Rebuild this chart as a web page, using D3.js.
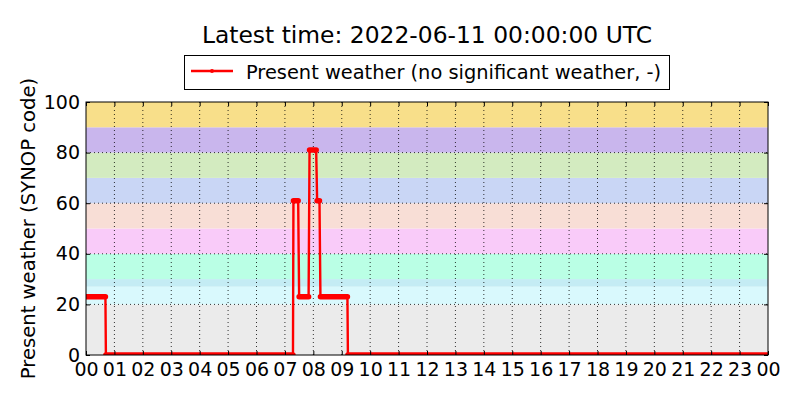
<!DOCTYPE html>
<html>
<head>
  <meta charset="utf-8">
  <script src="https://d3js.org/d3.v7.min.js"></script>
  <style>
    body { margin: 0; background: #fff; }
    text { font-family: "DejaVu Sans", sans-serif; fill: #000; }
    .grid line { stroke: #000; stroke-width: 0.8; stroke-dasharray: 1,3; }
  </style>
</head>
<body>
<script>
// observation times (HH:MM, 24:00 = next midnight) and SYNOP present weather codes
var obsTimes = ["00:00", "00:41", "00:42", "07:17", "07:18", "07:28", "07:30", "07:50",
                "07:52", "08:06", "08:08", "08:13", "08:15", "09:12", "09:13", "24:00"];
var obsValues = [23, 23, 0, 0, 61, 61, 23, 23, 81, 81, 61, 61, 23, 23, 0, 0];

// coloured background bands: [from, to, colour]
var bandFrom = [0, 20, 27, 30, 40, 50, 60, 70, 80, 90];
var bandTo = [20, 27, 30, 40, 50, 60, 70, 80, 90, 100];
var bandColors = ["#ebebeb", "#d9f9fd", "#c4ecf4", "#baffe5", "#f9cbf9",
                  "#f8ded6", "#c9d6f5", "#d3ebc0", "#c9b6ed", "#f8df8a"];

var xTickLabels = ["00", "01", "02", "03", "04", "05", "06", "07", "08", "09", "10", "11",
                   "12", "13", "14", "15", "16", "17", "18", "19", "20", "21", "22", "23", "00"];
var yTicks = [0, 20, 40, 60, 80, 100];

var titleText = "Latest time: 2022-06-11 00:00:00 UTC";
var legendText = "Present weather (no significant weather, -)";
var yLabel = "Present weather (SYNOP code)";

(function() {
  "use strict";
  var W = 800, H = 400;
  var pLeft = 86, pRight = 768, pTop = 102, pBottom = 355;

  function toHours(s) {
    var p = s.split(":");
    return +p[0] + (+p[1]) / 60;
  }

  var data = obsTimes.map(function(t, i) {
    return { h: toHours(t), v: obsValues[i] };
  });

  var svg = d3.select("body").append("svg")
      .attr("width", W)
      .attr("height", H);

  var x = d3.scaleLinear().domain([0, 24]).range([pLeft, pRight]);
  var y = d3.scaleLinear().domain([0, 100]).range([pBottom, pTop]);

  svg.append("defs").append("clipPath").attr("id", "plotclip")
    .append("rect")
      .attr("x", pLeft).attr("y", pTop)
      .attr("width", pRight - pLeft).attr("height", pBottom - pTop);

  // background bands
  svg.append("g").selectAll("rect")
      .data(bandFrom)
    .enter().append("rect")
      .attr("x", pLeft)
      .attr("width", pRight - pLeft)
      .attr("y", function(d, i) { return y(bandTo[i]); })
      .attr("height", function(d, i) { return y(bandFrom[i]) - y(bandTo[i]); })
      .attr("fill", function(d, i) { return bandColors[i]; });

  // dotted grid
  var grid = svg.append("g").attr("class", "grid");
  grid.selectAll(".vg")
      .data(d3.range(1, 24))
    .enter().append("line")
      .attr("x1", function(d) { return x(d); })
      .attr("x2", function(d) { return x(d); })
      .attr("y1", pTop).attr("y2", pBottom);
  grid.selectAll(".hg")
      .data(yTicks.slice(1, -1))
    .enter().append("line")
      .attr("y1", function(d) { return y(d); })
      .attr("y2", function(d) { return y(d); })
      .attr("x1", pLeft).attr("x2", pRight);

  // the series
  var plot = svg.append("g").attr("clip-path", "url(#plotclip)");

  var line = d3.line()
      .x(function(d) { return x(d.h); })
      .y(function(d) { return y(d.v); });

  plot.append("path")
      .datum(data)
      .attr("d", line)
      .attr("fill", "none")
      .attr("stroke", "#ff0000")
      .attr("stroke-width", 2.4);

  // dense markers make the flat runs look thick
  var runs = [];
  data.forEach(function(d, i) {
    if (i < data.length - 1 && d.v == data[i + 1].v) runs.push([d, data[i + 1]]);
  });
  plot.selectAll(".run")
      .data(runs)
    .enter().append("line")
      .attr("x1", function(d) { return x(d[0].h); })
      .attr("y1", function(d) { return y(d[0].v); })
      .attr("x2", function(d) { return x(d[1].h); })
      .attr("y2", function(d) { return y(d[1].v); })
      .attr("stroke", "#ff0000")
      .attr("stroke-width", 5.5)
      .attr("stroke-linecap", "round");

  // axes, classic style: ticks inside, on all four sides
  var xAxis = d3.axisBottom(x).tickValues(d3.range(0, 25))
      .tickFormat(function(d) { return xTickLabels[d]; })
      .tickSizeInner(-4).tickSizeOuter(0).tickPadding(8);
  svg.append("g")
      .attr("transform", "translate(0," + pBottom + ")")
      .call(xAxis)
      .call(function(g) {
        g.select(".domain").remove();
        g.selectAll("text").style("font-size", "19px").attr("font-family", null);
      });

  var yAxis = d3.axisLeft(y).tickValues(yTicks)
      .tickSizeInner(-4).tickSizeOuter(0).tickPadding(6);
  svg.append("g")
      .attr("transform", "translate(" + pLeft + ",0)")
      .call(yAxis)
      .call(function(g) {
        g.select(".domain").remove();
        g.selectAll("text").style("font-size", "19px").attr("font-family", null);
      });

  svg.append("g")
      .attr("transform", "translate(0," + pTop + ")")
      .call(d3.axisTop(x).tickValues(d3.range(0, 25)).tickFormat("").tickSizeInner(-4).tickSizeOuter(0))
      .call(function(g) { g.select(".domain").remove(); });
  svg.append("g")
      .attr("transform", "translate(" + pRight + ",0)")
      .call(d3.axisRight(y).tickValues(yTicks).tickFormat("").tickSizeInner(-4).tickSizeOuter(0))
      .call(function(g) { g.select(".domain").remove(); });

  svg.selectAll(".tick line").attr("stroke", "#000");

  // frame
  svg.append("rect")
      .attr("x", pLeft).attr("y", pTop)
      .attr("width", pRight - pLeft).attr("height", pBottom - pTop)
      .attr("fill", "none")
      .attr("stroke", "#000")
      .attr("stroke-width", 1);

  // y label
  svg.append("text")
      .attr("transform", "translate(35," + ((pTop + pBottom) / 2) + ") rotate(-90)")
      .attr("text-anchor", "middle")
      .style("font-size", "19.6px")
      .text(yLabel);

  // title
  svg.append("text")
      .attr("x", (pLeft + pRight) / 2)
      .attr("y", 43)
      .attr("text-anchor", "middle")
      .style("font-size", "23.4px")
      .text(titleText);

  // legend
  var legend = svg.append("g").attr("class", "legend");
  legend.append("rect")
      .attr("x", 184.5).attr("y", 55.5)
      .attr("width", 485).attr("height", 34)
      .attr("fill", "#fff")
      .attr("stroke", "#000")
      .attr("stroke-width", 1);
  legend.append("line")
      .attr("x1", 191).attr("x2", 233)
      .attr("y1", 71).attr("y2", 71)
      .attr("stroke", "#ff0000")
      .attr("stroke-width", 2.4);
  legend.append("circle")
      .attr("cx", 212).attr("cy", 71).attr("r", 2)
      .attr("fill", "#ff0000");
  legend.append("text")
      .attr("x", 246).attr("y", 79)
      .style("font-size", "19.4px")
      .text(legendText);
})();
</script>
</body>
</html>
